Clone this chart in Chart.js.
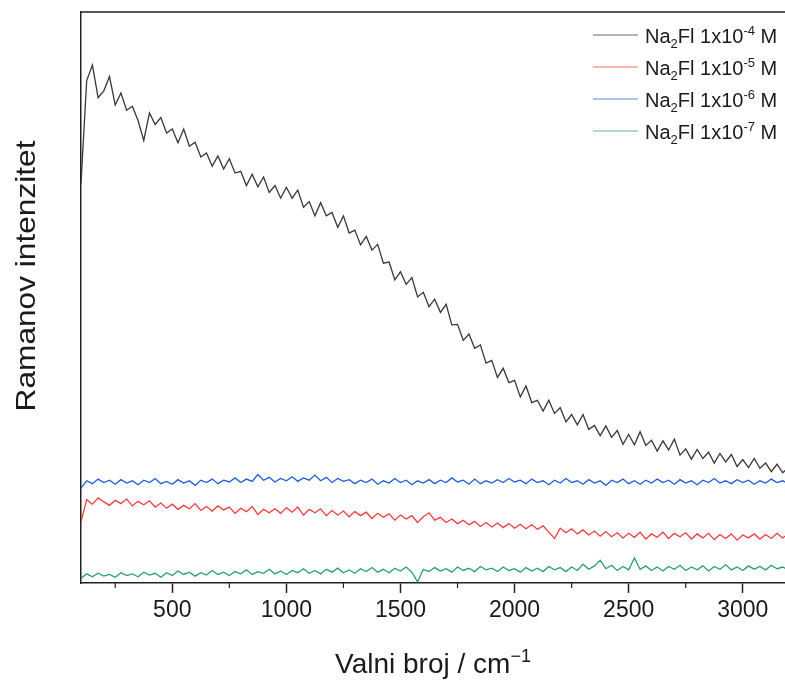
<!DOCTYPE html>
<html>
<head>
<meta charset="utf-8">
<script src="https://cdn.jsdelivr.net/npm/chart.js@4.4.1/dist/chart.umd.min.js"></script>
<style>
  html, body { margin: 0; padding: 0; background: #fff; overflow: hidden; }
  canvas { display: block; }
</style>
</head>
<body>
<canvas id="ramanChart" width="785" height="680"></canvas>
<script>
// Valni broj (cm-1)
const wavenumbers = [
  100, 125, 150, 175, 200, 225, 250, 275,
  300, 325, 350, 375, 400, 425, 450, 475,
  500, 525, 550, 575, 600, 625, 650, 675,
  700, 725, 750, 775, 800, 825, 850, 875,
  900, 925, 950, 975, 1000, 1025, 1050, 1075,
  1100, 1125, 1150, 1175, 1200, 1225, 1250, 1275,
  1300, 1325, 1350, 1375, 1400, 1425, 1450, 1475,
  1500, 1525, 1550, 1575, 1600, 1625, 1650, 1675,
  1700, 1725, 1750, 1775, 1800, 1825, 1850, 1875,
  1900, 1925, 1950, 1975, 2000, 2025, 2050, 2075,
  2100, 2125, 2150, 2175, 2200, 2225, 2250, 2275,
  2300, 2325, 2350, 2375, 2400, 2425, 2450, 2475,
  2500, 2525, 2550, 2575, 2600, 2625, 2650, 2675,
  2700, 2725, 2750, 2775, 2800, 2825, 2850, 2875,
  2900, 2925, 2950, 2975, 3000, 3025, 3050, 3075,
  3100, 3125, 3150, 3175, 3200
];

const xTicks = [500, 1000, 1500, 2000, 2500, 3000];

// Ramanov intenzitet (proizvoljne jedinice), ocitano sa slike
const conc4 = [
  70.0, 88.0, 90.7, 85.0, 86.2, 88.7, 83.7, 85.8,
  82.8, 83.5, 81.0, 77.5, 82.3, 80.3, 81.5, 78.8,
  79.5, 77.1, 79.5, 76.5, 77.2, 74.6, 75.3, 73.0,
  74.8, 72.5, 74.3, 71.8, 72.1, 69.6, 71.6, 69.4,
  71.1, 68.4, 69.6, 67.4, 69.3, 67.4, 68.8, 65.8,
  66.8, 64.3, 66.6, 64.3, 64.9, 62.3, 64.3, 61.3,
  61.8, 59.2, 60.7, 58.3, 59.3, 56.0, 56.2, 53.1,
  54.5, 52.3, 53.5, 50.1, 50.9, 48.4, 49.7, 47.4,
  48.8, 45.2, 45.3, 42.5, 43.6, 41.1, 41.7, 38.5,
  39.0, 36.0, 37.6, 35.1, 35.5, 32.6, 34.5, 31.6,
  32.0, 30.1, 32.0, 29.7, 30.7, 28.2, 29.5, 27.7,
  29.5, 26.9, 27.6, 25.8, 27.5, 25.5, 26.7, 24.3,
  26.0, 24.2, 26.5, 24.1, 25.0, 23.1, 24.9, 23.3,
  25.2, 22.4, 23.5, 21.7, 23.4, 21.8, 22.9, 21.0,
  22.7, 21.2, 22.5, 20.4, 21.6, 20.2, 21.8, 20.1,
  21.0, 19.5, 20.8, 19.3, 20.2
];

const conc5 = [
  10.7, 14.6, 13.8, 14.9, 14.2, 13.6, 14.5, 13.9,
  14.7, 13.5, 14.3, 13.7, 14.4, 13.3, 14.0, 13.1,
  13.8, 12.9, 13.6, 13.0, 13.9, 12.7, 13.4, 12.6,
  13.5, 12.8, 13.3, 12.2, 13.1, 12.5, 13.4, 12.0,
  12.9, 12.3, 13.0, 12.2, 13.2, 12.4, 13.3, 11.9,
  12.9, 12.3, 13.0, 11.8, 12.7, 11.9, 12.6, 11.6,
  12.5, 11.8, 12.4, 11.3, 12.2, 11.5, 12.1, 11.0,
  11.9, 11.2, 11.8, 10.6, 11.6, 12.3, 11.0, 11.5,
  10.6, 11.2, 10.4, 11.0, 10.2, 10.8, 9.9, 10.6,
  9.8, 10.5, 9.7, 10.4, 9.6, 10.3, 9.5, 10.2,
  9.4, 10.0, 8.9, 7.8, 9.6, 8.8, 9.5, 8.6,
  9.3, 8.4, 9.1, 8.2, 9.0, 8.1, 8.8, 7.9,
  8.7, 8.0, 8.9, 7.7, 8.6, 8.0, 8.9, 7.8,
  8.7, 8.1, 8.8, 7.7, 8.6, 7.9, 8.7, 7.6,
  8.5, 7.8, 8.6, 7.5, 8.4, 7.9, 8.6, 7.7,
  8.5, 7.8, 8.7, 7.9, 8.6
];

const conc6 = [
  16.6, 17.9, 17.4, 18.2, 17.6, 18.0, 17.3, 18.1,
  17.5, 17.9, 17.2, 18.0, 17.6, 18.3, 17.4, 17.8,
  17.3, 18.1, 17.5, 17.9, 17.1, 18.0, 17.6, 18.2,
  17.4, 18.0, 17.7, 18.4, 17.6, 18.2, 17.8, 19.0,
  18.0, 18.5, 17.7, 18.3, 17.9, 18.6, 17.8, 18.4,
  18.0, 18.9, 17.9, 18.5, 17.6, 18.3, 17.8, 18.1,
  17.4, 18.0, 17.6, 18.2, 17.3, 17.9, 17.5, 18.3,
  17.6, 18.0, 17.2, 17.9, 17.5, 18.1, 17.4, 18.0,
  17.6, 18.4, 17.7, 18.0, 17.3, 18.2, 17.4, 17.9,
  17.5, 18.1, 17.6, 18.3, 17.7, 18.0, 17.4, 18.2,
  17.6, 17.9, 17.2, 18.0, 17.5, 18.3, 17.6, 17.9,
  17.3, 18.1, 17.5, 17.9, 17.1, 18.0, 17.6, 18.2,
  17.4, 17.9, 17.3, 18.0, 17.5, 18.2, 17.6, 18.0,
  17.3, 18.1, 17.5, 17.9, 17.2, 18.0, 17.6, 18.3,
  17.5, 17.9, 17.4, 18.1, 17.6, 18.0, 17.3, 17.9,
  17.5, 18.2, 17.6, 17.9, 17.4
];

const conc7 = [
  0.8, 1.6, 1.1, 1.7, 1.2, 1.5, 1.0, 1.8,
  1.3, 1.6, 1.1, 1.9, 1.4, 1.7, 1.0, 1.8,
  1.3, 2.1, 1.5, 1.9, 1.2, 1.8, 1.4, 2.2,
  1.5, 1.9, 1.3, 2.0, 1.6, 2.3, 1.5, 2.0,
  1.7, 2.4, 1.6, 2.1, 1.5, 2.2, 1.8, 2.5,
  1.7, 2.2, 1.6, 2.4, 1.9, 2.6, 1.8, 2.3,
  1.7, 2.5, 2.0, 2.7, 1.9, 2.4, 1.8, 2.6,
  2.1, 2.8, 1.9, 0.2, 2.4, 2.0, 2.7, 2.1,
  2.5, 1.9, 2.8, 2.2, 2.6, 2.0, 2.9, 2.3,
  2.6, 2.0, 2.8, 2.2, 2.5, 1.9, 2.7, 2.1,
  2.6, 2.0, 2.9, 2.3, 2.7, 2.0, 2.8, 2.2,
  3.3, 2.4, 3.0, 4.0, 2.5, 3.1, 2.2, 2.9,
  2.3, 4.4, 2.4, 3.0, 2.2, 2.8, 2.1, 2.9,
  2.4, 3.1, 2.2, 2.8, 2.3, 3.0, 2.1, 2.9,
  2.4, 3.2, 2.3, 2.8, 2.2, 3.0, 2.4, 2.9,
  2.3, 3.1, 2.5, 2.8, 2.3
];

const exponents = ['-4', '-5', '-6', '-7'];
const seriesColors = ['#383838', '#f03c3c', '#1b5fd6', '#27a265'];
const xMinorStep = 250;

const series = [conc4, conc5, conc6, conc7];
const FONT = "'Liberation Sans', Arial, sans-serif";

// tekst s indeksima: [tekst, 'sub' | 'sup' | '']
function richParts(parts, size) {
  return parts.map(([t, mode]) => ({t, mode, size: mode ? Math.round(size * 0.65) : size}));
}
function richWidth(ctx, parts) {
  let w = 0;
  parts.forEach(p => { ctx.font = p.size + 'px ' + FONT; w += ctx.measureText(p.t).width; });
  return w;
}
function drawRich(ctx, parts, x, y, size) {
  parts.forEach(p => {
    ctx.font = p.size + 'px ' + FONT;
    let dy = 0;
    if (p.mode === 'sub') dy = size * 0.25;
    if (p.mode === 'sup') dy = -size * 0.4;
    ctx.fillText(p.t, x, y + dy);
    x += ctx.measureText(p.t).width;
  });
}

const decorPlugin = {
  id: 'decor',
  afterDraw(chart) {
    const {ctx, chartArea: a, scales: {x}} = chart;
    ctx.save();
    ctx.strokeStyle = '#222';
    ctx.lineWidth = 1.5;
    // gornji okvir
    ctx.beginPath();
    ctx.moveTo(a.left, a.top);
    ctx.lineTo(a.right, a.top);
    ctx.stroke();
    // sporedne crtice
    ctx.lineWidth = 1.2;
    x.ticks.forEach(t => {
      const px = x.getPixelForValue(t.value - xMinorStep);
      if (px <= a.left) return;
      ctx.beginPath();
      ctx.moveTo(px, a.bottom);
      ctx.lineTo(px, a.bottom + 5);
      ctx.stroke();
    });

    ctx.fillStyle = '#1a1a1a';
    ctx.textBaseline = 'alphabetic';
    // naslov x osi
    const xt = richParts([['Valni broj / cm', ''], ['\u22121', 'sup']], 28);
    const w = richWidth(ctx, xt);
    drawRich(ctx, xt, (a.left + a.right) / 2 - w / 2, 673, 28);

    // naslov y osi
    ctx.save();
    ctx.translate(35, 276);
    ctx.rotate(-Math.PI / 2);
    ctx.scale(1.13, 1);
    ctx.font = '28px ' + FONT;
    ctx.textAlign = 'center';
    ctx.fillText('Ramanov intenzitet', 0, 0);
    ctx.restore();

    // legenda
    chart.data.datasets.forEach((ds, i) => {
      const y = 35 + i * 32;
      ctx.strokeStyle = ds.borderColor;
      ctx.globalAlpha = 0.75;
      ctx.lineWidth = 1;
      ctx.beginPath();
      ctx.moveTo(593, y);
      ctx.lineTo(638, y);
      ctx.stroke();
      ctx.globalAlpha = 1;
      ctx.fillStyle = '#1a1a1a';
      const parts = richParts([['Na', ''], ['2', 'sub'], ['Fl 1x10', ''], [exponents[i], 'sup'], [' M', '']], 20);
      drawRich(ctx, parts, 645, y + 7.5, 20);
    });
    ctx.restore();
  }
};

new Chart(document.getElementById('ramanChart'), {
  type: 'line',
  data: {
    datasets: series.map((vals, i) => ({
      label: 'Na\u2082Fl 1x10' + exponents[i] + ' M',
      data: vals.map((v, k) => ({x: wavenumbers[k], y: v})),
      borderColor: seriesColors[i],
      borderWidth: 1.3,
      pointRadius: 0,
      tension: 0
    }))
  },
  options: {
    responsive: false,
    animation: false,
    layout: {padding: {top: 12, left: 0, right: 0, bottom: 0}},
    plugins: {
      legend: {display: false},
      tooltip: {enabled: false}
    },
    scales: {
      x: {
        type: 'linear',
        min: 100,
        max: 3185,
        afterFit: s => { s.height = 97; },
        afterBuildTicks: s => { s.ticks = xTicks.map(v => ({value: v})); },
        ticks: {
          color: '#1a1a1a',
          font: {size: 23, family: FONT},
          padding: 4,
          maxRotation: 0,
          autoSkip: false,
          callback: v => String(v)
        },
        grid: {drawOnChartArea: false, tickLength: 10, tickColor: '#222', tickWidth: 1.5},
        border: {color: '#222', width: 1.5}
      },
      y: {
        min: 0,
        max: 100,
        afterFit: s => { s.width = 81; },
        ticks: {display: false},
        grid: {drawOnChartArea: false, drawTicks: false},
        border: {color: '#222', width: 1.5}
      }
    }
  },
  plugins: [decorPlugin]
});
</script>
</body>
</html>
